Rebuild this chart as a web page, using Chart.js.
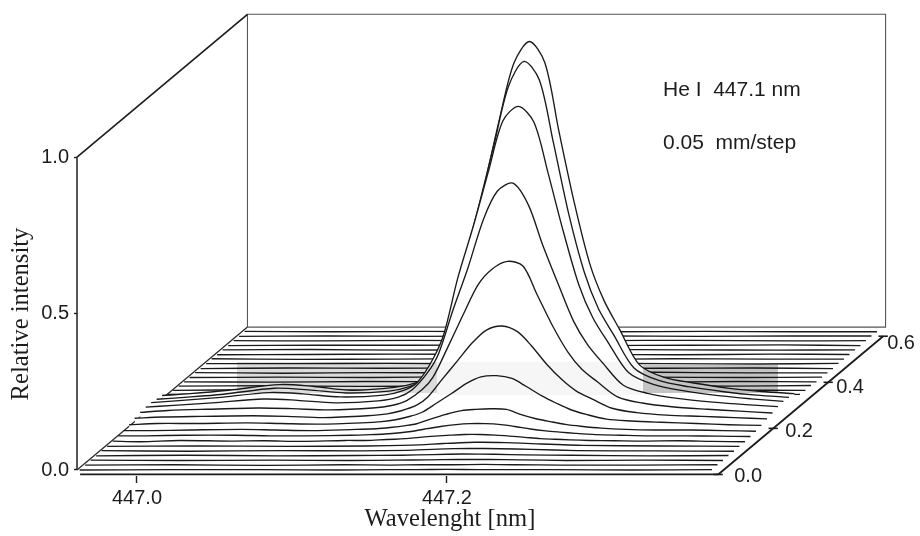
<!DOCTYPE html>
<html>
<head>
<meta charset="utf-8">
<style>html,body{margin:0;padding:0;background:#fff}#wrap{width:920px;height:536px}canvas{display:block}</style>
<script src="https://cdn.jsdelivr.net/npm/chart.js@4"></script>
</head>
<body>
<div id="wrap"><canvas id="c" width="920" height="536"></canvas></div>
<script>
// Wavelength grids (nm)
const wavelengths = [446.963,446.981,447.006,447.039,447.061,447.085,447.113,447.126,447.135,447.145,447.152,447.161,447.171,447.181,447.190,447.200,447.210,447.219,447.229,447.239,447.248,447.258,447.271,447.287,447.306,447.329,447.350,447.371];
const midWavelengths = [446.963,447.02,447.08,447.13,447.16,447.18,447.20,447.22,447.24,447.27,447.32,447.371];
const flatWavelengths = [446.963,447.02,447.08,447.14,447.20,447.26,447.32,447.371];

// Peak traces
const trace15 = [.017,.023,.034,.052,.046,.034,.043,.057,.080,.161,.253,.471,.689,.908,1.080,1.149,1.080,.862,.632,.437,.322,.230,.115,.075,.057,.040,.030,.023];
const trace14 = [.020,.026,.036,.055,.050,.040,.046,.060,.085,.160,.245,.450,.640,.840,1.020,1.100,1.040,.840,.610,.425,.310,.225,.120,.080,.060,.044,.033,.026];
const trace13 = [.024,.030,.040,.056,.052,.042,.048,.063,.090,.165,.245,.425,.590,.770,.925,.971,.920,.760,.570,.400,.295,.215,.120,.082,.062,.046,.036,.028];
const trace12 = [.024,.030,.038,.050,.046,.038,.044,.056,.080,.135,.195,.330,.470,.625,.715,.740,.670,.545,.420,.300,.225,.165,.095,.068,.052,.040,.032,.026];
const trace11 = [.022,.028,.032,.036,.034,.030,.036,.045,.060,.095,.135,.225,.330,.430,.480,.505,.490,.400,.300,.215,.160,.120,.072,.052,.040,.032,.026,.020];
const trace10 = [.018,.022,.024,.026,.024,.020,.026,.032,.042,.060,.085,.140,.200,.260,.300,.313,.295,.250,.190,.140,.105,.080,.050,.036,.028,.024,.020,.016];
const trace09 = [.012,.016,.016,.018,.016,.014,.018,.022,.028,.040,.052,.080,.112,.145,.165,.169,.160,.135,.105,.080,.060,.045,.030,.024,.020,.016,.012,.010];
const trace08 = [.008,.008,.010,.012,.010,.008,.012,.014,.018,.024,.030,.045,.060,.072,.076,.078,.076,.060,.046,.036,.028,.022,.016,.012,.010,.010,.008,.006];
const trace07 = [.006,.006,.008,.008,.006,.006,.008,.010,.012,.016,.020,.028,.036,.042,.045,.045,.042,.036,.028,.022,.018,.014,.010,.008,.006,.006,.005,.004];
const trace06 = [.004,.002,.006,.004,.005,.003,.006,.006,.008,.010,.012,.016,.020,.023,.025,.025,.023,.020,.016,.012,.010,.008,.006,.005,.004,.005,.003,.002];

// Low traces near the front
const trace05 = [.002,.003,.002,.003,.006,.011,.015,.014,.010,.005,.003,.002];
const trace04 = [.003,.001,.003,.002,.004,.008,.010,.009,.007,.003,.002,.001];
const trace03 = [.001,.003,.001,.002,.003,.005,.007,.006,.004,.003,.001,.002];
const trace02 = [.002,.001,.002,.001,.002,.003,.004,.004,.003,.001,.002,.001];
const trace01 = [.001,.002,.000,.002,.001,.002,.002,.003,.002,.001,.001,.002];
const trace00 = [.000,.001,.001,.000,.001,.001,.002,.001,.001,.001,.000,.001];

// Flat traces behind the peak
const trace16 = [.006,.008,.007,.008,.006,.007,.005,.006];
const trace17 = [.004,.006,.005,.003,.004,.006,.005,.004];
const trace18 = [.003,.004,.002,.003,.002,.004,.003,.005];
const trace19 = [.002,.001,.003,.002,.003,.001,.003,.002];
const trace20 = [.001,.002,.001,.003,.002,.002,.001,.002];
const trace21 = [.002,.000,.002,.001,.002,.003,.001,.001];
const trace22 = [.000,.002,.001,.002,.001,.001,.002,.000];
const trace23 = [.001,.001,.002,.000,.002,.001,.000,.002];
const trace24 = [.002,.000,.001,.002,.000,.002,.001,.001];
const trace25 = [.000,.001,.002,.001,.001,.000,.002,.001];
const trace26 = [.001,.002,.000,.001,.002,.001,.000,.001];
const trace27 = [.000,.001,.001,.002,.000,.001,.002,.000];
const trace28 = [.001,.000,.002,.000,.001,.002,.000,.001];
const trace29 = [.000,.001,.000,.001,.001,.000,.001,.001];
const trace30 = [.001,.000,.001,.000,.000,.001,.000,.000];

const frontToBack = [
  [trace00,midWavelengths],[trace01,midWavelengths],[trace02,midWavelengths],[trace03,midWavelengths],[trace04,midWavelengths],[trace05,midWavelengths],
  [trace06,wavelengths],[trace07,wavelengths],[trace08,wavelengths],[trace09,wavelengths],[trace10,wavelengths],[trace11,wavelengths],[trace12,wavelengths],[trace13,wavelengths],[trace14,wavelengths],[trace15,wavelengths],
  [trace16,flatWavelengths],[trace17,flatWavelengths],[trace18,flatWavelengths],[trace19,flatWavelengths],[trace20,flatWavelengths],[trace21,flatWavelengths],[trace22,flatWavelengths],[trace23,flatWavelengths],[trace24,flatWavelengths],[trace25,flatWavelengths],[trace26,flatWavelengths],[trace27,flatWavelengths],[trace28,flatWavelengths],[trace29,flatWavelengths],[trace30,flatWavelengths]
];
const depthStep = 0.02;

// Axis ticks
const wavelengthTicks = [447.0, 447.2];
const intensityTicks = [0, 0.5, 1.0];
const depthTicks = [0.0, 0.2, 0.4, 0.6];

// Oblique projection: a step back in depth shifts right and up in axis units
const xPerDepth = 0.1774;
const yPerDepth = 0.7367;
const project = (w, d, i) => ({x: w + d * xPerDepth, y: i + d * yPerDepth});

// Box extents
const boxLeft = 446.9613, boxRight = 447.373, boxDepth = 0.62;
const axisEnd = 447.375, floorOffset = -0.0143;

const lineDs = (pts, color, width) => ({data: pts, showLine: true, fill: false, borderColor: color, borderWidth: width, pointRadius: 0, tension: 0, clip: false});

const datasets = [];
// Depth axis on top
datasets.push(lineDs([project(axisEnd,0,floorOffset), project(axisEnd,0.6,floorOffset)], '#1c1c1c', 1.8));
depthTicks.forEach(d => datasets.push(lineDs([project(axisEnd-0.003,d,floorOffset), project(axisEnd+0.003,d,floorOffset)], '#1c1c1c', 1.6)));
// Front floor line
datasets.push(lineDs([project(boxLeft+0.002,0,floorOffset), project(axisEnd,0,floorOffset)], '#1c1c1c', 1.8));
// Waterfall traces, front first (drawn last, hiding what is behind)
frontToBack.forEach(([vals, grid], k) => {
  const d = k * depthStep;
  datasets.push({
    data: vals.map((v, i) => project(grid[i], d, v)),
    showLine: true,
    fill: 'start',
    backgroundColor: '#ffffff',
    borderColor: '#1a1a1a',
    borderWidth: 1.35,
    pointRadius: 0,
    tension: vals.length > 20 ? 0.3 : 0.2
  });
});
// Walls
datasets.push(lineDs([project(boxLeft,0,0), project(boxLeft,boxDepth,0)], '#2a2a2a', 1.3));
datasets.push(lineDs([project(boxLeft,0,0), project(boxLeft,0,1)], '#1e1e1e', 1.5));
datasets.push(lineDs([project(boxLeft,0,1), project(boxLeft,boxDepth,1)], '#1e1e1e', 1.7));
datasets.push(lineDs([project(boxLeft,boxDepth,0), project(boxLeft,boxDepth,1), project(boxRight,boxDepth,1), project(boxRight,boxDepth,0), project(boxLeft,boxDepth,0)], '#555555', 1.1));

const textPlugin = {
  id: 'texts',
  afterDatasetsDraw(chart) {
    const {ctx, scales: {x, y}} = chart;
    ctx.save();
    // faint scanner band across the plot
    ctx.globalCompositeOperation = 'multiply';
    ctx.fillStyle = '#dcdcdc'; ctx.fillRect(237, 362, 200, 31);
    ctx.fillStyle = '#f6f6f6'; ctx.fillRect(437, 362, 206, 33);
    ctx.fillStyle = '#c4c4c4'; ctx.fillRect(643, 365, 135, 28);
    ctx.globalCompositeOperation = 'source-over';
    ctx.fillStyle = '#1c1c1c';
    ctx.textBaseline = 'middle';
    // depth axis labels
    ctx.font = '20px "Liberation Sans"';
    ctx.textAlign = 'left';
    depthTicks.forEach(d => {
      const p = project(axisEnd, d, floorOffset);
      ctx.fillText(d.toFixed(1), x.getPixelForValue(p.x) + 16 - d * 20, y.getPixelForValue(p.y) + 2 + d * 8);
    });
    // annotation
    ctx.font = '21px "Liberation Sans"';
    ctx.fillText('He I  447.1 nm', 663, 90);
    ctx.fillText('0.05  mm/step', 663, 143);
    // axis titles
    ctx.font = '24.6px "Liberation Serif"';
    ctx.textAlign = 'center';
    ctx.fillText('Wavelenght [nm]', 450, 520);
    ctx.translate(22, 314);
    ctx.rotate(-Math.PI / 2);
    ctx.fillText('Relative intensity', 0, 0);
    ctx.restore();
  }
};

new Chart(document.getElementById('c'), {
  type: 'scatter',
  data: {datasets},
  plugins: [textPlugin],
  options: {
    responsive: false,
    animation: false,
    layout: {padding: {left: 0, right: 20, top: 0, bottom: 0}},
    plugins: {legend: {display: false}, tooltip: {enabled: false}},
    scales: {
      x: {
        type: 'linear', min: 446.9613, max: 447.4923,
        border: {display: false},
        grid: {drawOnChartArea: false, tickLength: 7, tickColor: '#1c1c1c', tickWidth: 1.4},
        afterBuildTicks: s => { s.ticks = wavelengthTicks.map(v => ({value: v})); },
        afterFit: s => { s.height = 60; },
        ticks: {autoSkip: false, maxRotation: 0, color: '#1c1c1c', padding: 3, font: {family: '"Liberation Sans"', size: 20}, callback: v => v.toFixed(1)}
      },
      y: {
        type: 'linear', min: -0.0192, max: 1.4482,
        border: {display: false},
        grid: {drawOnChartArea: false, tickLength: 3, tickColor: '#1c1c1c', tickWidth: 1.4},
        afterBuildTicks: s => { s.ticks = intensityTicks.map(v => ({value: v})); },
        afterFit: s => { s.width = 77; },
        ticks: {autoSkip: false, color: '#1c1c1c', padding: 5, font: {family: '"Liberation Sans"', size: 20}, callback: v => v.toFixed(1)}
      }
    }
  }
});
</script>
</body>
</html>
